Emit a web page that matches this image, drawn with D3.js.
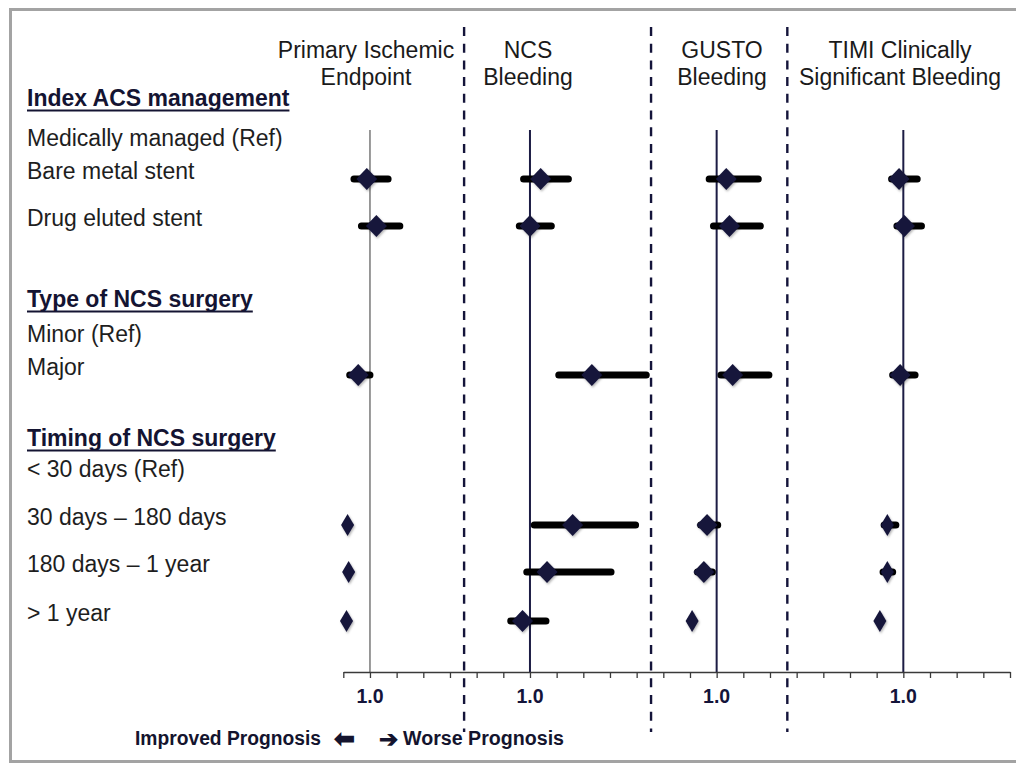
<!DOCTYPE html>
<html>
<head>
<meta charset="utf-8">
<script src="https://cdn.jsdelivr.net/npm/d3@7"></script>
<style>
  html, body { margin: 0; padding: 0; background: #fff; }
  svg { display: block; }
  text { font-family: "Liberation Sans", Arial, sans-serif; }
</style>
</head>
<body>
<svg id="chart" width="1016" height="766"></svg>
<script>
// ---- data ----------------------------------------------------------------
const panelTitles = [
  ["Primary Ischemic", "Endpoint"],
  ["NCS", "Bleeding"],
  ["GUSTO", "Bleeding"],
  ["TIMI Clinically", "Significant Bleeding"]
];

const rowLabels = [
  "Index ACS management",
  "Medically managed (Ref)",
  "Bare metal stent",
  "Drug eluted stent",
  "Type of NCS surgery",
  "Minor (Ref)",
  "Major",
  "Timing of NCS surgery",
  "< 30 days (Ref)",
  "30 days \u2013 180 days",
  "180 days \u2013 1 year",
  "> 1 year"
];
const sectionHeaders = ["Index ACS management", "Type of NCS surgery", "Timing of NCS surgery"];

// compared groups (non-reference rows), in the order of the estimate arrays
const comparisons = [
  "Bare metal stent",
  "Drug eluted stent",
  "Major",
  "30 days \u2013 180 days",
  "180 days \u2013 1 year",
  "> 1 year"
];

// hazard ratio, lower CI, upper CI (null = interval hidden under marker)
const primaryIschemic = [[0.97, 0.85, 1.17], [1.06, 0.92, 1.28], [0.89, 0.81, 1.00], [0.79, null, null], [0.80, null, null], [0.78, null, null]];
const ncsBleeding     = [[1.10, 0.94, 1.36], [1.00, 0.90, 1.20], [1.58, 1.27, 2.09], [1.40, 1.04, 1.99], [1.16, 0.97, 1.76], [0.93, 0.82, 1.15]];
const gustoBleeding   = [[1.09, 0.93, 1.39], [1.12, 0.97, 1.41], [1.15, 1.04, 1.49], [0.91, 0.85, 1.01], [0.88, 0.82, 0.96], [0.77, null, null]];
const timiBleeding    = [[0.96, 0.89, 1.13], [1.01, 0.94, 1.17], [0.97, 0.90, 1.11], [0.85, 0.82, 0.93], [0.85, 0.81, 0.90], [0.78, null, null]];
const panelEstimates = [primaryIschemic, ncsBleeding, gustoBleeding, timiBleeding];

const refValue = 1.0;
const refTickLabel = "1.0";
const footLeft = "Improved Prognosis";
const footRight = "Worse Prognosis";
const arrowLeft = "\u2B05";
const arrowRight = "\u2794";

// ---- layout & style -------------------------------------------------------
const axisY = 672;
const refLineTop = 130;
const tickCount = 25;              // minor tick intervals along the shared axis
const tickStep = 0.25;             // HR per tick interval
const panelRefTick = [1, 7, 14, 21];
const separatorTicks = [4.53, 11.54, 16.65];
const headerX = [366, 528, 722, 900];
const rowBaselines = [106, 146, 179, 226, 307, 342, 375, 446, 477, 525, 572, 621];
const narrowMarkers = ["0-3", "0-4", "0-5", "2-5", "3-3", "3-4", "3-5"];
const navy = "#14143a";

const svg = d3.select("#chart");

const defs = svg.append("defs");
const shadow = defs.append("filter").attr("id", "soft").attr("x", "-50%").attr("y", "-50%").attr("width", "200%").attr("height", "200%");
shadow.append("feDropShadow").attr("dx", 1).attr("dy", 1.5).attr("stdDeviation", 1.2)
  .attr("flood-color", "#000").attr("flood-opacity", 0.3);

// frame
svg.append("rect")
  .attr("x", 10.5).attr("y", 9.5).attr("width", 1030).attr("height", 752)
  .attr("fill", "none").attr("stroke", "#a3a3a3").attr("stroke-width", 3);

// scales
const tickScale = d3.scaleLinear().domain([0, tickCount]).range([343.3, 1010]);
const panelScales = panelRefTick.map(k =>
  d3.scaleLinear()
    .domain([refValue - k * tickStep, refValue + (tickCount - k) * tickStep])
    .range(tickScale.range()));
const y = d3.scaleOrdinal().domain(rowLabels).range(rowBaselines);

// dashed panel separators
svg.append("g").selectAll("line").data(separatorTicks).join("line")
  .attr("x1", d => tickScale(d)).attr("x2", d => tickScale(d))
  .attr("y1", 27).attr("y2", 732)
  .attr("stroke", navy).attr("stroke-width", 2.4)
  .attr("stroke-dasharray", "9,7.7");

// reference lines at HR = 1
svg.append("g").selectAll("line").data(panelScales).join("line")
  .attr("x1", s => s(refValue)).attr("x2", s => s(refValue))
  .attr("y1", refLineTop).attr("y2", axisY)
  .attr("stroke", (s, i) => i === 0 ? "#808080" : "#1c1c44")
  .attr("stroke-width", (s, i) => i === 0 ? 1.6 : 2);

// shared axis
const axis = d3.axisBottom(tickScale).ticks(tickCount).tickSize(6).tickSizeOuter(0).tickFormat("");
const ag = svg.append("g").attr("transform", `translate(0,${axisY})`).call(axis);
ag.select(".domain").attr("stroke", "#3a3a3a").attr("stroke-width", 1.6);
ag.selectAll(".tick line").attr("stroke", "#3a3a3a").attr("stroke-width", 1.3);

// "1.0" labels
svg.append("g").selectAll("text").data(panelScales).join("text")
  .attr("x", s => s(refValue)).attr("y", 703)
  .attr("text-anchor", "middle")
  .attr("font-size", 19.5).attr("font-weight", "bold").attr("fill", navy)
  .text(refTickLabel);

// panel titles
panelTitles.forEach((lines, i) => {
  svg.append("text")
    .attr("x", headerX[i]).attr("text-anchor", "middle")
    .attr("font-size", 23).attr("fill", "#1a1a1a")
    .selectAll("tspan").data(lines).join("tspan")
    .attr("x", headerX[i]).attr("y", (d, j) => 58 + j * 27)
    .text(d => d);
});

// row labels
const lg = svg.append("g");
rowLabels.forEach(label => {
  const isHeader = sectionHeaders.includes(label);
  const t = lg.append("text")
    .attr("x", 27).attr("y", y(label))
    .attr("font-size", 23)
    .attr("font-weight", isHeader ? "bold" : "normal")
    .attr("fill", isHeader ? "#141432" : "#1e1e1e")
    .text(label);
  if (isHeader) {
    const w = t.node().getComputedTextLength();
    lg.append("line")
      .attr("x1", 27).attr("x2", 27 + w)
      .attr("y1", y(label) + 4.5).attr("y2", y(label) + 4.5)
      .attr("stroke", "#141432").attr("stroke-width", 2);
  }
});

// estimates: CI bars then diamonds
panelEstimates.forEach((est, p) => {
  const x = panelScales[p];
  const g = svg.append("g");
  const rows = est.map((d, i) => ({ hr: d[0], lo: d[1], hi: d[2], row: comparisons[i], key: `${p}-${i}` }));

  g.selectAll("line.ci").data(rows.filter(d => d.lo !== null)).join("line")
    .attr("class", "ci")
    .attr("x1", d => x(d.lo)).attr("x2", d => x(d.hi))
    .attr("y1", d => y(d.row)).attr("y2", d => y(d.row))
    .attr("stroke", "#000").attr("stroke-width", 7).attr("stroke-linecap", "round");

  g.selectAll("path.est").data(rows).join("path")
    .attr("class", "est")
    .attr("transform", d => `translate(${x(d.hr)},${y(d.row)})`)
    .attr("d", d => {
      const w = narrowMarkers.includes(d.key) ? 6.5 : 10.5;
      const h = 11;
      return `M0,${-h}L${w},0L0,${h}L${-w},0Z`;
    })
    .attr("fill", navy)
    .attr("filter", "url(#soft)");
});

// footer: direction of effect
const foot = svg.append("g").attr("fill", "#14142e").attr("font-weight", "bold");
foot.append("text").attr("x", 135).attr("y", 745)
  .attr("font-size", 19.5).attr("textLength", 186).attr("lengthAdjust", "spacingAndGlyphs")
  .text(footLeft);
foot.append("text").attr("x", 403).attr("y", 745)
  .attr("font-size", 19.5).attr("textLength", 161).attr("lengthAdjust", "spacingAndGlyphs")
  .text(footRight);
foot.append("text").attr("x", 344).attr("y", 747).attr("text-anchor", "middle")
  .attr("font-family", "DejaVu Sans").attr("font-size", 25)
  .text(arrowLeft);
foot.append("text").attr("x", 388).attr("y", 747).attr("text-anchor", "middle")
  .attr("font-family", "DejaVu Sans").attr("font-size", 23)
  .text(arrowRight);
</script>
</body>
</html>
